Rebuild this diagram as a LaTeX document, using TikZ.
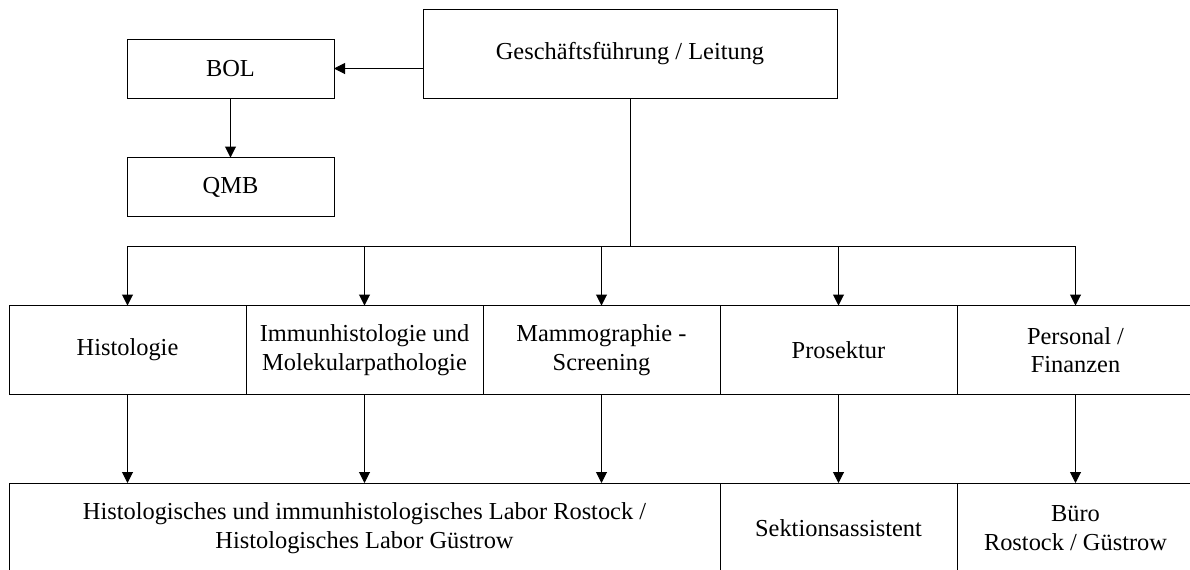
\documentclass[tikz,border=0pt]{standalone}
\usepackage{fontspec}
\setmainfont{Liberation Serif}
\usetikzlibrary{arrows.meta}

\begin{document}
\begin{tikzpicture}[x=0.5pt, y=-0.5pt,
        box/.style={draw, line width=0.5pt, inner sep=0pt, outer sep=0pt, align=center,
            font=\fontsize{12.2}{14.3}\selectfont},
        unit/.style={box, minimum width=118.5pt, minimum height=44.5pt},
        link/.style={line width=0.5pt, -{Triangle[length=5.5pt, width=5.5pt]}}]
        \useasboundingbox (0, 0) rectangle (1190, 569);
        \clip (0, 0) rectangle (1190, 569);

        \node[box, minimum width=207pt, minimum height=44.5pt] (Leitung) at (630, 53.5) {Geschäftsführung / Leitung};
        \node[box, minimum width=103.5pt, minimum height=29.5pt] (BOL) at (230.5, 68.5) {BOL};
        \node[box, minimum width=103.5pt, minimum height=29.5pt] (QMB) at (230.5, 187) {QMB};

        \node[unit] (Histologie) at (127.5, 350) {Histologie};
        \node[unit] (Immun) at (364.5, 350) {Immunhistologie und\\Molekularpathologie};
        \node[unit] (Mammo) at (601.5, 350) {Mammographie -\\Screening};
        \node[unit] (Prosektur) at (838.5, 350) {Prosektur};
        \node[unit] (Personal) at (1075.5, 350) {Personal /\\Finanzen};

        \node[box, minimum width=355.5pt, minimum height=45pt] (Labor) at (364.5, 528) {Histologisches und immunhistologisches Labor Rostock /\\Histologisches Labor Güstrow};
        \node[unit, minimum height=45pt] (Sektion) at (838.5, 528) {Sektionsassistent};
        \node[unit, minimum height=45pt] (Buero) at (1075.5, 528) {Büro\\Rostock / Güstrow};

        \coordinate (Bus) at (0, 246);

        \draw[link] (Leitung.west |- BOL) to (BOL.east);
        \draw[link] (BOL) to (QMB);
        \draw[line width=0.5pt] (Leitung.south) to (Leitung.south |- Bus);
        \draw[line width=0.5pt] (Histologie.north |- Bus) to (Personal.north |- Bus);
        \foreach \n in {Histologie, Immun, Mammo, Prosektur, Personal}
            \draw[link] (\n.north |- Bus) to (\n.north);

        \draw[link] (Histologie.south) to (Histologie.south |- Labor.north);
        \draw[link] (Immun.south) to (Immun.south |- Labor.north);
        \draw[link] (Mammo.south) to (Mammo.south |- Labor.north);
        \draw[link] (Prosektur.south) to (Sektion.north);
        \draw[link] (Personal.south) to (Buero.north);
    \end{tikzpicture}
\end{document}
